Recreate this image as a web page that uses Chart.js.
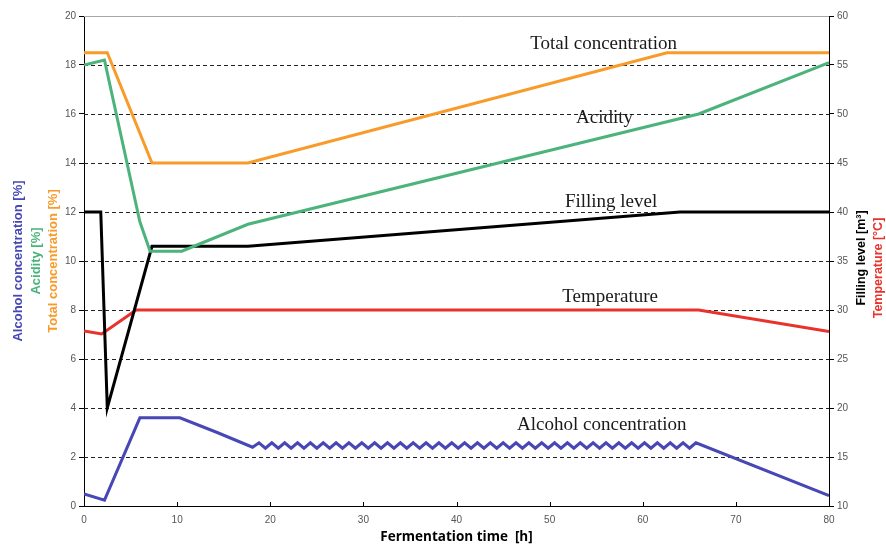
<!DOCTYPE html>
<html>
<head>
<meta charset="utf-8">
<script src="https://cdn.jsdelivr.net/npm/chart.js@4/dist/chart.umd.min.js"></script>
<style>
  html, body { margin: 0; padding: 0; background: #ffffff; }
  #wrap { width: 886px; height: 545px; position: relative; }
</style>
</head>
<body>
<div id="wrap"><canvas id="c"></canvas></div>
<script>
// ---- Data ----
const xTicks = [0, 10, 20, 30, 40, 50, 60, 70, 80];
const leftTicks = [0, 2, 4, 6, 8, 10, 12, 14, 16, 18, 20];
const rightTicks = [10, 15, 20, 25, 30, 35, 40, 45, 50, 55, 60];

// Total concentration [%] (left axis)
const totalTime = [0, 2.5, 7.3, 17.6, 62.6, 80];
const totalValue = [18.5, 18.5, 14, 14, 18.5, 18.5];

// Acidity [%] (left axis)
const acidTime = [0, 2.2, 6.0, 7.1, 10.5, 17.6, 66, 80];
const acidValue = [18, 18.2, 11.6, 10.4, 10.4, 11.5, 16, 18.1];

// Filling level [m³] (right axis)
const fillTime = [0, 1.8, 2.5, 7.3, 17.6, 64, 80];
const fillValue = [40, 40, 20, 36.5, 36.5, 40, 40];

// Temperature [°C] (right axis)
const tempTime = [0, 1.9, 5.6, 66, 80];
const tempValue = [27.85, 27.55, 30, 30, 27.8];

// Alcohol concentration [%] (left axis) incl. the wavy section
const alcTime = [0, 2.2, 6.0, 10.3, 14.3, 18.1,
  18.79, 19.48, 20.17, 20.86, 21.55, 22.24, 22.93, 23.62, 24.31, 25.00,
  25.69, 26.38, 27.07, 27.76, 28.45, 29.14, 29.83, 30.52, 31.21, 31.90,
  32.59, 33.28, 33.97, 34.66, 35.35, 36.04, 36.73, 37.42, 38.11, 38.80,
  39.49, 40.18, 40.87, 41.56, 42.25, 42.94, 43.63, 44.32, 45.01, 45.70,
  46.39, 47.08, 47.77, 48.46, 49.15, 49.84, 50.53, 51.22, 51.91, 52.60,
  53.29, 53.98, 54.67, 55.36, 56.05, 56.74, 57.43, 58.12, 58.81, 59.50,
  60.19, 60.88, 61.57, 62.26, 62.95, 63.64, 64.33, 65.02, 65.71,
  80];
const alcValue = [0.49, 0.24, 3.6, 3.6, 3.0, 2.4,
  2.58, 2.36, 2.58, 2.36, 2.58, 2.36, 2.58, 2.36, 2.58, 2.36,
  2.58, 2.36, 2.58, 2.36, 2.58, 2.36, 2.58, 2.36, 2.58, 2.36,
  2.58, 2.36, 2.58, 2.36, 2.58, 2.36, 2.58, 2.36, 2.58, 2.36,
  2.58, 2.36, 2.58, 2.36, 2.58, 2.36, 2.58, 2.36, 2.58, 2.36,
  2.58, 2.36, 2.58, 2.36, 2.58, 2.36, 2.58, 2.36, 2.58, 2.36,
  2.58, 2.36, 2.58, 2.36, 2.58, 2.36, 2.58, 2.36, 2.58, 2.36,
  2.58, 2.36, 2.58, 2.36, 2.58, 2.36, 2.58, 2.36, 2.58,
  0.42];

const seriesNames = ['Total concentration', 'Acidity', 'Filling level', 'Temperature', 'Alcohol concentration'];

// ---- Styling ----
const C_ORANGE = '#f89b2b';
const C_GREEN = '#4cb37c';
const C_BLACK = '#000000';
const C_RED = '#e8322b';
const C_BLUE = '#4747b5';

const pts = (xs, ys) => xs.map((t, i) => ({ x: t, y: ys[i] }));

const annotations = [
  { text: 'Total concentration', x: 55.8, y: 18.86 },
  { text: 'Acidity', x: 55.9, y: 15.84 },
  { text: 'Filling level', x: 56.6, y: 12.4 },
  { text: 'Temperature', x: 56.5, y: 8.53 },
  { text: 'Alcohol concentration', x: 55.6, y: 3.3 }
];

const deco = {
  id: 'deco',
  beforeDatasetsDraw(chart) {
    const { ctx, chartArea: a, scales: { x, y } } = chart;
    ctx.save();
    ctx.lineWidth = 1;
    leftTicks.forEach(v => {
      const py = Math.round(y.getPixelForValue(v)) + 0.5;
      ctx.beginPath();
      if (v === 20) {
        ctx.setLineDash([]);
        ctx.strokeStyle = '#a8a8a8';
        ctx.moveTo(a.left, py); ctx.lineTo(a.right, py);
      } else if (v !== 0) {
        ctx.setLineDash([4, 3]);
        ctx.strokeStyle = '#222222';
        ctx.moveTo(a.left, py); ctx.lineTo(a.right, py);
      }
      ctx.stroke();
    });
    ctx.setLineDash([]);
    ctx.strokeStyle = '#000';
    xTicks.forEach(v => {
      const px = Math.round(x.getPixelForValue(v)) + 0.5;
      ctx.beginPath();
      ctx.moveTo(px, a.bottom); ctx.lineTo(px, a.bottom - 4);
      ctx.stroke();
    });
    ctx.restore();
  },
  afterDraw(chart) {
    const { ctx, chartArea: a, scales: { x, y } } = chart;
    ctx.save();
    // annotations
    ctx.fillStyle = '#1a1a1a';
    ctx.font = '19px "Liberation Serif", "Times New Roman", serif';
    ctx.textAlign = 'center';
    ctx.textBaseline = 'middle';
    annotations.forEach(an => {
      ctx.fillText(an.text, x.getPixelForValue(an.x), y.getPixelForValue(an.y));
    });
    // x title
    ctx.fillStyle = '#000';
    ctx.font = 'bold 13.5px "Open Sans", "Liberation Sans", sans-serif';
    ctx.fillText('Fermentation time  [h]', (a.left + a.right) / 2, 537);
    // left titles (rotated)
    const cy = (a.top + a.bottom) / 2;
    const leftT = [
      { t: 'Alcohol concentration [%]', c: C_BLUE, x: 18, f: 13 },
      { t: 'Acidity [%]', c: C_GREEN, x: 36, f: 13 },
      { t: 'Total concentration [%]', c: C_ORANGE, x: 53, f: 13 }
    ];
    const rightT = [
      { t: 'Filling level [m³]', c: '#000', x: 862, cy: 258, f: 12.5 },
      { t: 'Temperature [°C]', c: C_RED, x: 879, cy: 268, f: 12.5 }
    ];
    leftT.concat(rightT).forEach(o => {
      ctx.save();
      ctx.font = 'bold ' + o.f + 'px "Liberation Sans", Arial, sans-serif';
      ctx.translate(o.x, o.cy || cy);
      ctx.rotate(-Math.PI / 2);
      ctx.fillStyle = o.c;
      ctx.fillText(o.t, 0, 0);
      ctx.restore();
    });
    ctx.restore();
  }
};

const tickFont = { family: '"Liberation Sans", Arial, sans-serif', size: 10 };

new Chart(document.getElementById('c'), {
  type: 'line',
  data: {
    datasets: [
      { label: seriesNames[0], data: pts(totalTime, totalValue), borderColor: C_ORANGE, yAxisID: 'y' },
      { label: seriesNames[1], data: pts(acidTime, acidValue), borderColor: C_GREEN, yAxisID: 'y' },
      { label: seriesNames[2], data: pts(fillTime, fillValue), borderColor: C_BLACK, yAxisID: 'y1' },
      { label: seriesNames[3], data: pts(tempTime, tempValue), borderColor: C_RED, yAxisID: 'y1' },
      { label: seriesNames[4], data: pts(alcTime, alcValue), borderColor: C_BLUE, yAxisID: 'y' }
    ].map(d => Object.assign(d, { borderWidth: 3, pointRadius: 0, tension: 0, fill: false }))
  },
  options: {
    responsive: true,
    maintainAspectRatio: false,
    animation: false,
    layout: { padding: { top: 16, left: 0, right: 0, bottom: 0 } },
    plugins: { legend: { display: false }, tooltip: { enabled: false } },
    scales: {
      x: {
        type: 'linear', min: 0, max: 80,
        afterBuildTicks: s => { s.ticks = xTicks.map(v => ({ value: v })); },
        afterFit: s => { s.height = 39; },
        grid: { display: true, drawOnChartArea: false, drawTicks: false },
        border: { display: true, color: '#000', width: 1 },
        ticks: { color: '#555', font: tickFont, padding: 8, maxRotation: 0 }
      },
      y: {
        position: 'left', min: 0, max: 20,
        afterBuildTicks: s => { s.ticks = leftTicks.map(v => ({ value: v })); },
        afterFit: s => { s.width = 84; },
        grid: { display: true, drawOnChartArea: false, drawTicks: true, tickLength: 5, tickColor: '#000' },
        border: { display: true, color: '#000', width: 1 },
        ticks: { color: '#555', font: tickFont, padding: 3 }
      },
      y1: {
        position: 'right', min: 10, max: 60,
        afterBuildTicks: s => { s.ticks = rightTicks.map(v => ({ value: v })); },
        afterFit: s => { s.width = 57; },
        grid: { display: true, drawOnChartArea: false, drawTicks: true, tickLength: 5, tickColor: '#000' },
        border: { display: true, color: '#000', width: 1 },
        ticks: { color: '#555', font: tickFont, padding: 3 }
      }
    }
  },
  plugins: [deco]
});
</script>
</body>
</html>
